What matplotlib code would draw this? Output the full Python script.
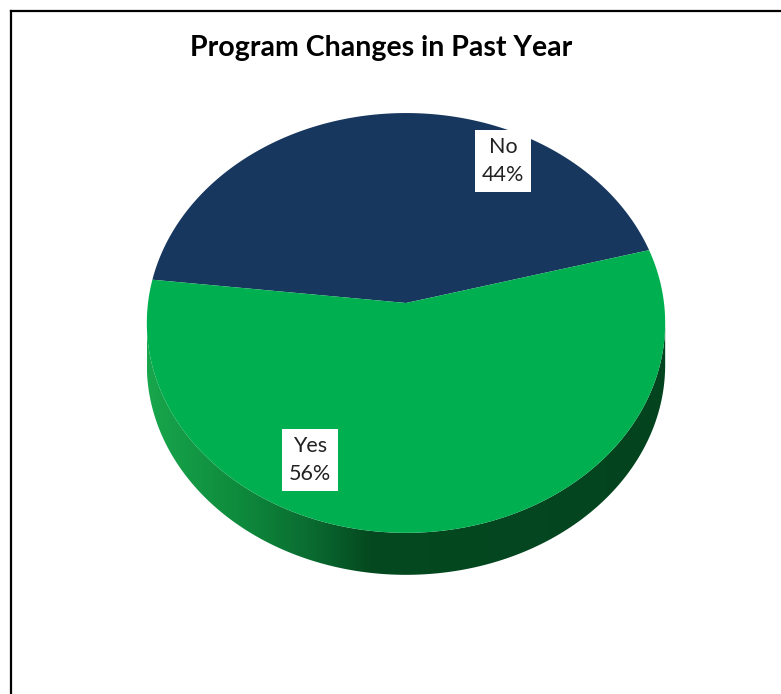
import numpy as np
import matplotlib.pyplot as plt
from matplotlib.patches import Polygon
from matplotlib.colors import LinearSegmentedColormap

# survey answers
labels = ['No', 'Yes']
values = [44, 56]
colors = ['#17375E', '#00B050']

W, H = 781, 694

# projected disc: centre, half axes, perspective factor, thickness
cx, cy = 406, 303
A, B, k = 258, 208, 0.095
depth = 42
start = 173.5   # degrees, slices run clockwise from here


def rim(t, drop=0.0):
    u, v = np.cos(t), np.sin(t)
    w = 1 + k * v
    return cx + A * u / w, cy - B * v / w + drop


fig = plt.figure(figsize=(W / 100, H / 100), dpi=100)
ax = fig.add_axes([0, 0, 1, 1])
ax.set_xlim(0, W)
ax.set_ylim(H, 0)
ax.axis('off')

# side wall (front half only) with a left-to-right shading
t = np.radians(np.linspace(-174.5, -5.5, 400))
xt, yt = rim(t)
xb, yb = rim(t[::-1], depth)
wall = Polygon(np.column_stack([np.r_[xt, xb], np.r_[yt, yb]]),
               closed=True, facecolor='none', edgecolor='none')
ax.add_patch(wall)
shade = LinearSegmentedColormap.from_list('side', [
    (0.0, '#18a64c'), (0.18, '#0e8a3c'), (0.32, '#0a6a30'),
    (0.43, '#04491f'), (1.0, '#034420')])
grad = np.linspace(0, 1, 512)[None, :]
img = ax.imshow(grad, cmap=shade, extent=[147, 666, 600, 250],
                aspect='auto', zorder=1)
img.set_clip_path(wall)

# top face slices
total = sum(values)
a0 = start
for lab, val, col in zip(labels, values, colors):
    span = 360.0 * val / total
    tt = np.radians(np.linspace(a0, a0 - span, 300))
    px, py = rim(tt)
    pts = np.column_stack([np.r_[cx, px], np.r_[cy, py]])
    ax.add_patch(Polygon(pts, closed=True, facecolor=col,
                         edgecolor='none', zorder=2))
    a0 -= span

# data labels
label_pos = {'No': (503, 161), 'Yes': (310, 460)}
for lab, val in zip(labels, values):
    x, y = label_pos[lab]
    ax.text(x, y, f'{lab}\n{val}%', ha='center', va='center',
            fontsize=15.5, family='Lato', color='#222222',
            linespacing=1.55, zorder=4,
            bbox=dict(boxstyle='square,pad=0.3', facecolor='white',
                      edgecolor='none'))

ax.text(381, 48, 'Program Changes in Past Year', ha='center',
        va='center', fontsize=20.5, fontweight='bold', family='Lato',
        color='black')

# chart frame
ax.plot([10.5, 10.5], [H, 10.5], color='black', lw=1.6,
        solid_capstyle='projecting')
ax.plot([10.5, W], [10.5, 10.5], color='black', lw=1.6,
        solid_capstyle='projecting')

fig.savefig('out.png', dpi=100, facecolor='white')
